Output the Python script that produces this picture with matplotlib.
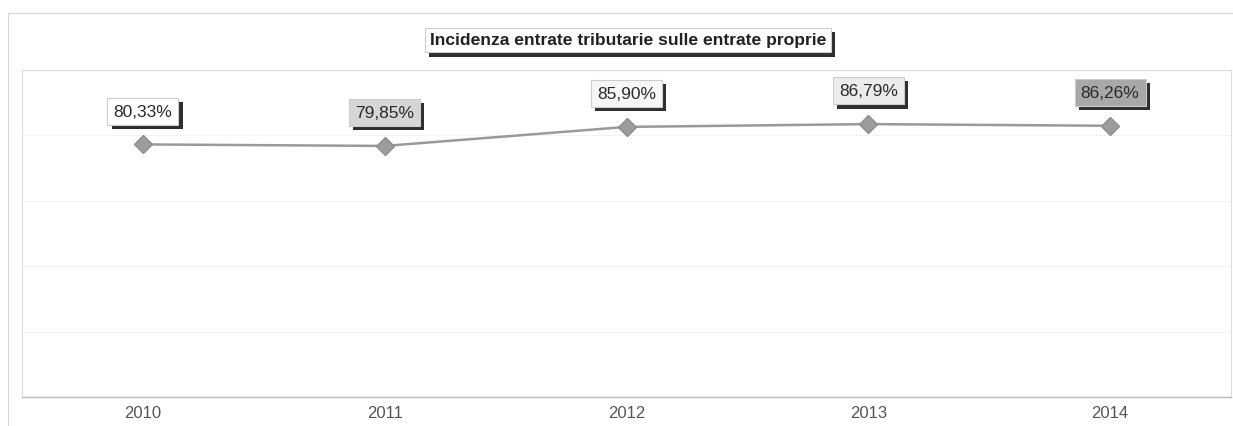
import matplotlib
matplotlib.use("Agg")
import matplotlib.pyplot as plt
import matplotlib.patheffects as pe
from matplotlib.lines import Line2D
import numpy as np

years = ["2010", "2011", "2012", "2013", "2014"]
values = [80.33, 79.85, 85.90, 86.79, 86.26]
labels = ["80,33%", "79,85%", "85,90%", "86,79%", "86,26%"]
label_fills = ["#ffffff", "#d6d6d6", "#f7f7f7", "#ececec", "#a8a8a8"]
title = "Incidenza entrate tributarie sulle entrate proprie"

plt.rcParams['font.family'] = ['Liberation Sans', 'DejaVu Sans']

W, H = 1233, 427
fig = plt.figure(figsize=(W / 100, H / 100), dpi=100)
fig.patch.set_facecolor("white")

# outer frame lines
fig.add_artist(Line2D([8 / W, 8 / W], [0, 1 - 14 / H], color="#d6d6d6", lw=0.8))
fig.add_artist(Line2D([8 / W, 1], [1 - 14 / H, 1 - 14 / H], color="#d6d6d6", lw=0.8))

ax = fig.add_axes([22 / W, 29 / H, (1231 - 22) / W, (398 - 71) / H])
x = np.arange(len(years))
ax.plot(x, values, color="#9a9a9a", lw=1.8, marker="D", markersize=9,
        markerfacecolor="#9c9c9c", markeredgecolor="#8e8e8e", zorder=3)

ax.set_xlim(-0.5, len(years) - 0.5)
ax.set_ylim(0, 104)
ax.set_yticks(np.linspace(0, 104, 6))
ax.yaxis.grid(True, color="#f3f3f3", lw=0.8)
ax.set_yticklabels([])
ax.tick_params(axis="y", length=0)
ax.set_xticks(x)
ax.set_xticklabels(years, fontsize=12, color="#555555")
ax.tick_params(axis="x", length=0, pad=6)
for s in ["left", "top", "right"]:
    ax.spines[s].set_color("#dddddd")
    ax.spines[s].set_linewidth(0.8)
ax.spines["bottom"].set_color("#bbbbbb")
ax.spines["bottom"].set_linewidth(1.0)

shadow = [pe.withSimplePatchShadow(offset=(3, -3), shadow_rgbFace="#2e2e2e", alpha=1.0)]
for xi, v, lab, fc in zip(x, values, labels, label_fills):
    t = ax.annotate(lab, (xi, v), xytext=(0, 24), textcoords="offset points",
                    ha="center", va="center", fontsize=12.5, color="#2a2a2a",
                    bbox=dict(boxstyle="square,pad=0.35", fc=fc, ec="#cccccc", lw=0.8),
                    zorder=5)
    t.get_bbox_patch().set_path_effects(shadow)

tt = fig.text(628 / W, 1 - 41 / H, title, ha="center", va="center",
              fontsize=12.6, fontweight="bold", color="#222222",
              bbox=dict(boxstyle="square,pad=0.28", fc="white", ec="#cccccc", lw=0.8))
tt.get_bbox_patch().set_path_effects(shadow)

fig.savefig("out.png", dpi=100, facecolor="white")
